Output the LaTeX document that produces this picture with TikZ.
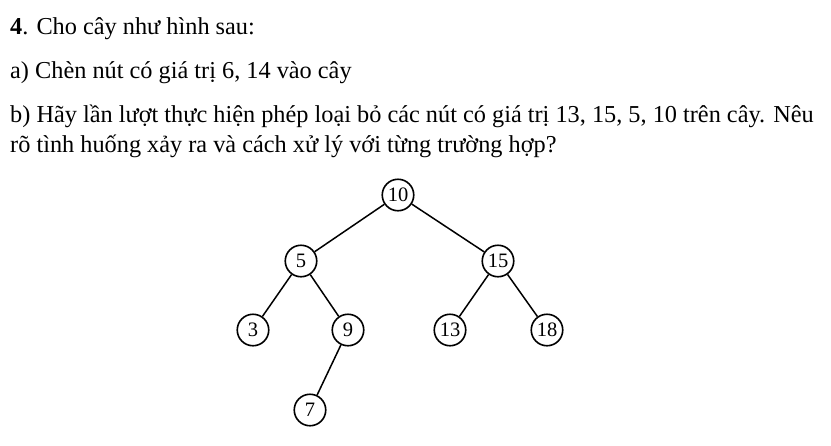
\documentclass[tikz,border=0pt]{standalone}
\usepackage{fontspec}
\setmainfont{Liberation Serif}
\begin{document}
\begin{tikzpicture}[x=1pt,y=-1pt,
  txt/.style={anchor=base west,inner sep=0pt,font=\fontsize{24.3}{29}\selectfont},
  key/.style={circle,draw,line width=1.6pt,minimum size=31.5pt,inner sep=0pt,font=\fontsize{20.5}{23}\selectfont},
  link/.style={line width=1.5pt}]
  \useasboundingbox (0,0) rectangle (831,445);
  % question
  \node[txt] (qhead) at(10,34){\textbf{4}. Cho cây như hình sau:};
  \node[txt] (qa) at(10,78){a) Chèn nút có giá trị 6, 14 vào cây};
  \node[txt] (qb) at(10,122){b) Hãy lần lượt thực hiện phép loại bỏ các nút có giá trị 13, 15, 5, 10 trên cây. Nêu};
  \node[txt] (qbb) at(10,152){rõ tình huống xảy ra và cách xử lý với từng trường hợp?};
  % tree
  \node[key] (k10) at(398,195){10};
  \node[key] (k5) at(301,261){5};
  \node[key] (k15) at(498,261){15};
  \node[key] (k3) at(253,330){3};
  \node[key] (k9) at(348,330){9};
  \node[key] (k13) at(450,330){13};
  \node[key] (k18) at(547,330){18};
  \node[key] (k7) at(310,410){7};
  % edges
  \draw [link](k10) -- (k5);
  \draw [link](k10) -- (k15);
  \draw [link](k5) -- (k3);
  \draw [link](k5) -- (k9);
  \draw [link](k9) -- (k7);
  \draw [link](k15) -- (k13);
  \draw [link](k15) -- (k18);
\end{tikzpicture}
\end{document}
